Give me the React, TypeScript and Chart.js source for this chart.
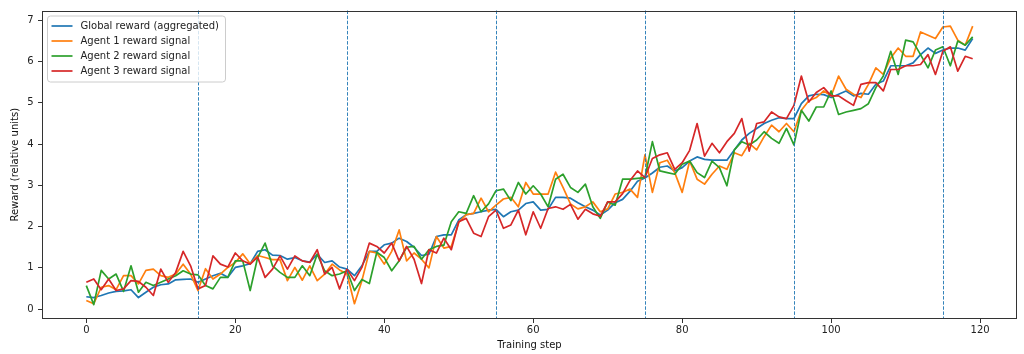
import React, { useEffect, useRef } from "react";
import { Chart, registerables } from "chart.js";

Chart.register(...registerables);

const seriesLabels = [
  "Global reward (aggregated)",
  "Agent 1 reward signal",
  "Agent 2 reward signal",
  "Agent 3 reward signal",
];
const seriesColors = ["#1f77b4", "#ff7f0e", "#2ca02c", "#d62728"];

const globalReward = [
  0.3, 0.28, 0.33, 0.39, 0.43, 0.44, 0.47, 0.28, 0.41, 0.53, 0.59, 0.61, 0.71, 0.72, 0.73, 0.65, 0.73, 0.81, 0.87, 0.77, 1.01, 1.05,
  1.1, 1.4, 1.44, 1.31, 1.3, 1.21, 1.25, 1.17, 1.14, 1.33, 1.13, 1.17, 1.02, 0.97, 0.81, 1.05, 1.4, 1.4, 1.56, 1.6,
  1.72, 1.64, 1.5, 1.3, 1.33, 1.76, 1.8, 1.8, 2.16, 2.29, 2.32, 2.36, 2.4, 2.42, 2.24, 2.36, 2.4, 2.56, 2.6, 2.4, 2.42, 2.71, 2.71,
  2.69, 2.58, 2.48, 2.4, 2.28, 2.4, 2.58, 2.66, 2.86, 3.1, 3.18, 3.3, 3.44, 3.47, 3.35, 3.43, 3.59, 3.69, 3.63, 3.61, 3.61, 3.61,
  3.86, 4.1, 4.26, 4.38, 4.5, 4.58, 4.64, 4.62, 4.62, 4.98, 5.17, 5.21, 5.2, 5.13, 5.21, 5.29, 5.17, 5.23, 5.21, 5.45, 5.53,
  5.9, 5.9, 5.9, 5.97, 6.17, 6.33, 6.2, 6.28, 6.33, 6.33, 6.28, 6.56,
];

const agent1Reward = [
  0.21, 0.13, 0.53, 0.57, 0.47, 0.81, 0.81, 0.61, 0.94, 0.97, 0.81, 0.77, 0.85, 1.09, 0.85, 0.45, 0.98, 0.73, 0.85, 1.01, 1.13, 1.34,
  1.1, 1.3, 1.25, 1.2, 1.2, 0.69, 1.01, 0.7, 1.05, 0.69, 0.85, 1.09, 0.95, 0.85, 0.13, 0.69, 1.4, 1.36, 1.09, 1.4,
  1.92, 1.17, 1.36, 1.21, 1.0, 1.76, 1.48, 1.52, 2.1, 2.29, 2.32, 2.69, 2.36, 2.52, 2.67, 2.71, 2.48, 3.07, 2.79, 2.79, 2.79, 3.32, 2.95,
  2.55, 2.43, 2.48, 2.6, 2.36, 2.43, 2.79, 2.83, 2.91, 2.71, 3.74, 2.83, 3.55, 3.61, 3.31, 2.83, 3.59, 3.15, 3.03, 3.27, 3.47, 3.39,
  3.79, 3.72, 4.02, 3.86, 4.18, 4.46, 4.3, 4.5, 4.3, 4.82, 5.05, 5.13, 5.29, 5.17, 5.65, 5.33, 5.21, 5.13, 5.45, 5.85, 5.69,
  6.09, 6.33, 6.13, 6.13, 6.72, 6.64, 6.56, 6.84, 6.86, 6.52, 6.4, 6.86,
];

const agent2Reward = [
  0.57, 0.11, 0.94, 0.73, 0.85, 0.43, 1.05, 0.41, 0.65, 0.57, 0.65, 0.73, 0.81, 0.93, 0.85, 0.83, 0.57, 0.49, 0.77, 0.77, 1.17, 1.17,
  0.45, 1.25, 1.6, 1.05, 0.89, 0.77, 0.77, 1.05, 0.81, 1.33, 0.93, 0.81, 0.85, 0.93, 0.45, 0.72, 0.62, 1.38, 1.25, 0.93,
  1.17, 1.5, 1.52, 1.21, 1.44, 1.52, 1.55, 2.12, 2.36, 2.32, 2.75, 2.36, 2.55, 2.87, 2.91, 2.63, 3.07, 2.79, 2.99, 2.79, 2.48, 3.15, 3.27,
  2.95, 2.83, 3.03, 2.48, 2.2, 2.6, 2.52, 3.15, 3.15, 3.17, 3.19, 4.06, 3.35, 3.31, 3.27, 3.51, 3.59, 3.31, 3.19, 3.59, 3.43, 2.99,
  3.86, 4.06, 3.98, 4.1, 4.3, 4.14, 4.02, 4.38, 3.98, 4.82, 4.56, 4.9, 4.9, 5.29, 4.72, 4.78, 4.82, 4.86, 4.98, 5.37, 5.65,
  6.25, 5.69, 6.52, 6.48, 6.17, 5.85, 6.28, 6.36, 5.9, 6.5, 6.4, 6.6,
];

const agent3Reward = [
  0.65, 0.73, 0.47, 0.73, 0.45, 0.49, 0.69, 0.67, 0.53, 0.33, 0.97, 0.65, 0.89, 1.4, 1.05, 0.49, 0.57, 1.29, 1.09, 1.02, 1.36, 1.17,
  1.09, 1.26, 0.77, 0.97, 1.29, 0.97, 1.29, 1.17, 1.13, 1.44, 0.85, 1.01, 0.49, 0.97, 0.69, 1.01, 1.6, 1.52, 1.36, 1.6,
  1.17, 1.52, 1.21, 0.62, 1.44, 1.36, 1.72, 1.44, 2.12, 2.2, 1.84, 1.76, 2.24, 2.4, 1.96, 2.04, 2.4, 1.8, 2.36, 1.96, 2.44, 2.48, 2.42,
  2.54, 2.18, 2.42, 2.31, 2.25, 2.6, 2.6, 2.8, 3.12, 3.35, 3.19, 3.65, 3.74, 3.79, 3.39, 3.55, 3.85, 4.5, 3.71, 4.02, 3.79, 4.06,
  4.26, 4.62, 3.83, 4.5, 4.54, 4.78, 4.66, 4.62, 4.94, 5.65, 5.02, 5.25, 5.37, 5.17, 5.17, 5.05, 4.94, 5.45, 5.49, 5.49, 5.29,
  5.81, 5.81, 5.9, 5.9, 5.93, 6.17, 5.69, 6.25, 6.36, 5.77, 6.13, 6.07,
];

const phaseMarkers = [15, 35, 55, 75, 95, 115];
const xTickValues = [0, 20, 40, 60, 80, 100, 120];
const yTickValues = [0, 1, 2, 3, 4, 5, 6, 7];
const xAxisTitle = "Training step";
const yAxisTitle = "Reward (relative units)";

const FONT = "'DejaVu Sans', sans-serif";
const FS = 10;

const markersPlugin = {
  id: "phaseMarkers",
  afterDatasetsDraw(chart: any) {
    const { ctx, chartArea, scales } = chart;
    ctx.save();
    ctx.strokeStyle = "rgba(31,119,180,0.9)";
    ctx.lineWidth = 1;
    ctx.setLineDash([3.5, 1.6]);
    for (const v of phaseMarkers) {
      const px = Math.round(scales.x.getPixelForValue(v)) + 0.5;
      ctx.beginPath();
      ctx.moveTo(px, chartArea.top);
      ctx.lineTo(px, chartArea.bottom);
      ctx.stroke();
    }
    ctx.restore();
  },
};

const framePlugin = {
  id: "frame",
  afterDatasetsDraw(chart: any) {
    const { ctx, chartArea } = chart;
    ctx.save();
    ctx.strokeStyle = "#333";
    ctx.lineWidth = 1;
    const l = Math.round(chartArea.left) + 0.5;
    const t = Math.round(chartArea.top) + 0.5;
    const r = Math.round(chartArea.right) - 0.5;
    const b = Math.round(chartArea.bottom) - 0.5;
    ctx.strokeRect(l, t, r - l, b - t);
    ctx.restore();
  },
};

const legendPlugin = {
  id: "boxLegend",
  afterDraw(chart: any) {
    const { ctx, chartArea } = chart;
    ctx.save();
    const x0 = chartArea.left + 5.5;
    const y0 = chartArea.top + 5.5;
    const w = 178;
    const h = 66;
    const r = 3;
    ctx.beginPath();
    ctx.moveTo(x0 + r, y0);
    ctx.lineTo(x0 + w - r, y0);
    ctx.quadraticCurveTo(x0 + w, y0, x0 + w, y0 + r);
    ctx.lineTo(x0 + w, y0 + h - r);
    ctx.quadraticCurveTo(x0 + w, y0 + h, x0 + w - r, y0 + h);
    ctx.lineTo(x0 + r, y0 + h);
    ctx.quadraticCurveTo(x0, y0 + h, x0, y0 + h - r);
    ctx.lineTo(x0, y0 + r);
    ctx.quadraticCurveTo(x0, y0, x0 + r, y0);
    ctx.closePath();
    ctx.fillStyle = "rgba(255,255,255,0.8)";
    ctx.fill();
    ctx.strokeStyle = "#cccccc";
    ctx.lineWidth = 1;
    ctx.stroke();
    ctx.font = `${FS}px ${FONT}`;
    ctx.textBaseline = "middle";
    ctx.textAlign = "left";
    seriesLabels.forEach((lab, k) => {
      const y = y0 + 10 + 15 * k;
      ctx.strokeStyle = seriesColors[k];
      ctx.lineWidth = 1.7;
      ctx.beginPath();
      ctx.moveTo(x0 + 4, y);
      ctx.lineTo(x0 + 25, y);
      ctx.stroke();
      ctx.fillStyle = "#222";
      ctx.fillText(lab, x0 + 33, y + 0.5);
    });
    ctx.restore();
  },
};

export default function App() {
  const ref = useRef<HTMLCanvasElement | null>(null);
  useEffect(() => {
    if (!ref.current) return;
    const allSeries = [globalReward, agent1Reward, agent2Reward, agent3Reward];
    const datasets = allSeries.map((s, k) => ({
      label: seriesLabels[k],
      data: s.map((v, i) => ({ x: i, y: v })),
      borderColor: seriesColors[k],
      backgroundColor: seriesColors[k],
      borderWidth: 1.7,
      pointRadius: 0,
      tension: 0,
      fill: false,
      borderJoinStyle: "round" as const,
      order: 3 - k,
    }));
    const chart = new Chart(ref.current, {
      type: "line",
      data: { datasets },
      options: {
        animation: false,
        responsive: false,
        devicePixelRatio: 1,
        layout: { padding: { left: 0, right: 7, top: 5, bottom: 0 } },
        plugins: { legend: { display: false }, tooltip: { enabled: false } },
        scales: {
          x: {
            type: "linear",
            min: -5.95,
            max: 124.95,
            afterBuildTicks: (s: any) => {
              s.ticks = xTickValues.map((v) => ({ value: v }));
            },
            afterFit: (s: any) => {
              s.height = 35;
            },
            border: { display: false },
            grid: { drawOnChartArea: false, drawTicks: true, tickLength: 4, color: "#333", lineWidth: 1 },
            ticks: { color: "#222", font: { family: FONT, size: FS }, padding: 1.5, maxRotation: 0, autoSkip: false },
            title: { display: true, text: xAxisTitle, color: "#111", font: { family: FONT, size: FS }, padding: { top: 0, bottom: 3 } },
          },
          y: {
            type: "linear",
            min: -0.24,
            max: 7.24,
            afterBuildTicks: (s: any) => {
              s.ticks = yTickValues.map((v) => ({ value: v }));
            },
            afterFit: (s: any) => {
              s.width = 42;
            },
            border: { display: false },
            grid: { drawOnChartArea: false, drawTicks: true, tickLength: 4, color: "#333", lineWidth: 1 },
            ticks: { color: "#222", font: { family: FONT, size: FS }, padding: 4.5, autoSkip: false },
            title: { display: true, text: yAxisTitle, color: "#111", font: { family: FONT, size: FS }, padding: { top: 9, bottom: 0 } },
          },
        },
      },
      plugins: [markersPlugin, framePlugin, legendPlugin],
    });
    return () => chart.destroy();
  }, []);
  return (
    <div style={{ position: "fixed", left: 0, top: 0, width: 1024, height: 354, background: "#fff" }}>
      <canvas ref={ref} width={1024} height={354} style={{ display: "block" }} />
    </div>
  );
}
